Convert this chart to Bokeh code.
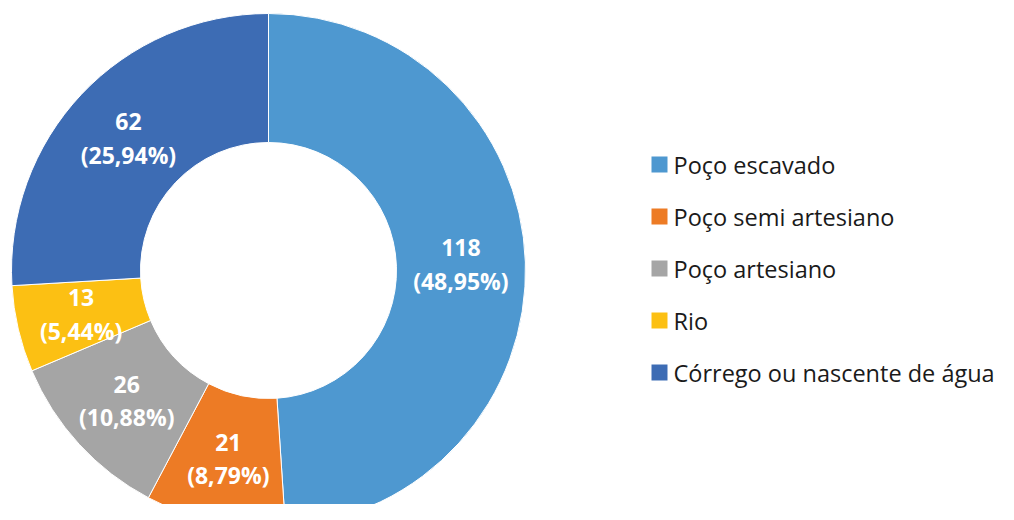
import math
from bokeh.plotting import figure
from bokeh.models import Range1d, ColumnDataSource
from bokeh.core.properties import value
from bokeh.embed import file_html
from bokeh.resources import INLINE

# ---- data ----
categories = ["Poço escavado", "Poço semi artesiano", "Poço artesiano", "Rio", "Córrego ou nascente de água"]
counts = [118, 21, 26, 13, 62]
percents = [48.95, 8.79, 10.88, 5.44, 25.94]
colors = ["#4E98D0", "#ED7B25", "#A5A5A5", "#FCC013", "#3D6CB4"]

# ---- layout constants ----
W, H = 998, 504
CX, CY = 268, H - 270
R_OUT, R_IN = 257, 128
R_LAB = (R_OUT + R_IN) / 2
FONT = "Open Sans"

total = sum(percents)
starts, ends, mids = [], [], []
cum = 0.0
for pc in percents:
    a0 = math.pi / 2 - 2 * math.pi * cum / total
    cum += pc
    a1 = math.pi / 2 - 2 * math.pi * cum / total
    starts.append(a0)
    ends.append(a1)
    mids.append((a0 + a1) / 2)

src = ColumnDataSource(dict(
    x=[CX] * len(counts), y=[CY] * len(counts),
    start=starts, end=ends, color=colors,
))

p = figure(width=W, height=H, output_backend="svg", toolbar_location=None,
           x_range=Range1d(0, W), y_range=Range1d(0, H), min_border=0)
p.axis.visible = False
p.grid.visible = False
p.outline_line_color = None
p.background_fill_color = "white"
p.border_fill_color = "white"

p.annular_wedge(x="x", y="y", inner_radius=R_IN, outer_radius=R_OUT,
                start_angle="start", end_angle="end", direction="clock",
                fill_color="color", line_color="white", line_width=1, source=src)

# data labels
lx = [CX + R_LAB * math.cos(m) for m in mids]
ly = [CY + R_LAB * math.sin(m) for m in mids]
top_txt = [str(c) for c in counts]
bot_txt = ["(" + f"{pc:.2f}".replace(".", ",") + "%)" for pc in percents]
LS = 16.5
p.text(x=lx, y=[v + LS for v in ly], text=top_txt, text_color="white",
       text_font=value(FONT), text_font_style="bold", text_font_size="23px",
       text_align="center", text_baseline="middle")
p.text(x=lx, y=[v - LS for v in ly], text=bot_txt, text_color="white",
       text_font=value(FONT), text_font_style="bold", text_font_size="23px",
       text_align="center", text_baseline="middle")

# legend
LEG_X = 659
ROW = 52
LEG_CY = CY + 2
leg_y = [LEG_CY + (2 - i) * ROW for i in range(len(categories))]
p.rect(x=[LEG_X] * len(categories), y=leg_y, width=16, height=16,
       fill_color=colors, line_color=None)
p.text(x=[LEG_X + 14] * len(categories), y=leg_y, text=categories,
       text_color="#1a1a1a", text_font=value(FONT), text_font_size="23.5px",
       text_align="left", text_baseline="middle")

open("out.html", "w").write(file_html(p, INLINE))
